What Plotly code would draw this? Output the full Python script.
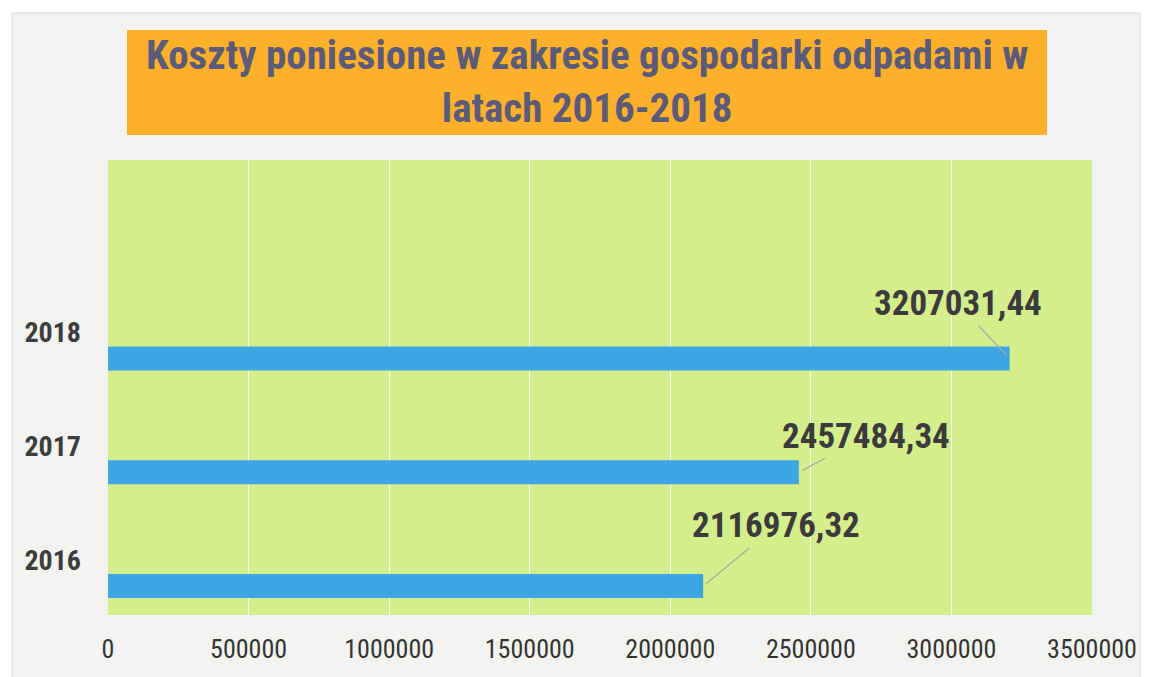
import plotly.graph_objects as go

years = ["2016", "2017", "2018"]
costs = [2116976.32, 2457484.34, 3207031.44]
cost_labels = ["2116976,32", "2457484,34", "3207031,44"]
x_ticks = [0, 500000, 1000000, 1500000, 2000000, 2500000, 3000000, 3500000]
title_text = "Koszty poniesione w zakresie gospodarki odpadami w<br>latach 2016-2018"

NARROW = "Liberation Sans Narrow, Arial Narrow, Roboto Condensed, Liberation Sans, Arial, sans-serif"

W, H = 1151, 677
L, R, T, B = 108, 1092, 160, 615
pw, ph = R - L, B - T

def px(xp):
    return (xp - L) / pw

def py(yp):
    return (B - yp) / ph

fig = go.Figure()
fig.add_trace(go.Bar(
    x=costs, y=years, orientation="h",
    marker=dict(color="#3da5e4", line=dict(width=0)),
    width=0.21, hoverinfo="x+y",
))

# leader-line labels: (text offset in px)
offsets = [(73, -60), (67, -36), (-52, -55)]
for i, (v, lab, (ax, ay)) in enumerate(zip(costs, cost_labels, offsets)):
    fig.add_annotation(
        xref="x", yref="y", x=v, y=i, text=f"<b>{lab}</b>",
        showarrow=True, arrowhead=0, axref="pixel", ayref="pixel",
        arrowwidth=1.2, arrowcolor="#a8a8a8", ax=ax, ay=ay, standoff=4,
        xanchor="center", yanchor="middle",
        font=dict(family=NARROW, size=35, color="#3b3b3b"),
    )

# frame and plot background
fig.add_shape(type="rect", xref="paper", yref="paper",
              x0=px(12), x1=px(1140), y0=py(680), y1=py(13),
              fillcolor="#f3f3f1", line=dict(color="#dadada", width=1), layer="below")
fig.add_shape(type="rect", xref="paper", yref="paper",
              x0=0, x1=1, y0=0, y1=1,
              fillcolor="#d4ee8c", line=dict(width=0), layer="below")
# title box
fig.add_shape(type="rect", xref="paper", yref="paper",
              x0=px(127), x1=px(1047), y0=py(135), y1=py(30),
              fillcolor="#fdb02a", line=dict(width=0), layer="below")
fig.add_annotation(
    xref="paper", yref="paper", x=px(587), y=py(82), showarrow=False,
    xanchor="center", yanchor="middle",
    text=f"<b>{title_text}</b>", align="center",
    font=dict(family=NARROW, size=41, color="#5b5a78"),
)
# cut-off caption at top
fig.add_annotation(
    xref="paper", yref="paper", x=px(14), y=py(6), xanchor="left", yanchor="bottom",
    showarrow=False, text="2016-2018.",
    font=dict(family="Liberation Sans, Arial, sans-serif", size=18, color="#222222"),
)

fig.update_layout(
    width=W, height=H,
    margin=dict(l=L, r=W - R, t=T, b=H - B, pad=0, autoexpand=False),
    paper_bgcolor="white", plot_bgcolor="rgba(0,0,0,0)",
    showlegend=False, bargap=0.5,
    xaxis=dict(
        range=[0, 3500000], tickvals=x_ticks, ticktext=[str(t) for t in x_ticks],
        showgrid=True, gridcolor="rgba(255,255,255,0.85)", gridwidth=1,
        zeroline=False, showline=False, ticks="", automargin=False,
        ticklabelstandoff=16,
        tickfont=dict(family=NARROW, size=26, color="#333333"),
    ),
    yaxis=dict(
        type="category", categoryorder="array", categoryarray=years,
        range=[-0.255, 3.745], showgrid=False, zeroline=False, showline=False,
        ticks="", automargin=False, ticklabelstandoff=26, ticklabelshift=-26,
        tickfont=dict(family=NARROW, size=28, color="#3d3d3d", weight="bold"),
    ),
)

fig.write_html("out.html", config={"displayModeBar": False},
               post_script="document.body.style.margin='0';")
